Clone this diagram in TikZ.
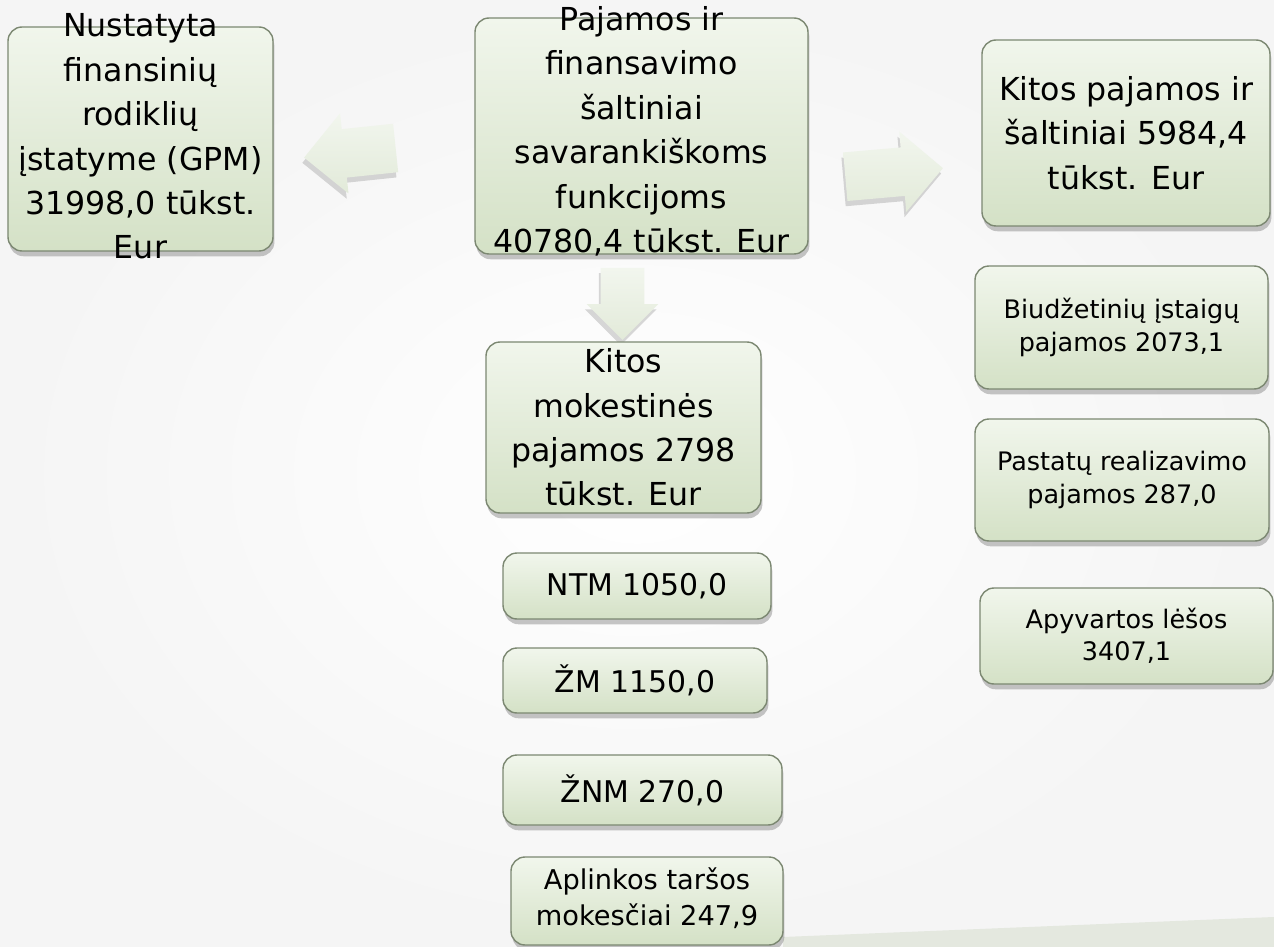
\documentclass[tikz,border=0pt]{standalone}
\usepackage{fontspec}
\setmainfont{DejaVu Sans}
\usetikzlibrary{shapes.arrows,shadows}
\definecolor{boxtop}{HTML}{F1F6EC}
\definecolor{boxbot}{HTML}{D4E1C6}
\definecolor{boxline}{HTML}{7C8872}
\definecolor{arrtop}{HTML}{F2F6EE}
\definecolor{arrbot}{HTML}{E2EAD9}
\definecolor{band}{HTML}{E4E8DF}
\tikzset{
    box/.style={rectangle, rounded corners=8pt, draw=boxline, line width=0.8pt,
        top color=boxtop, bottom color=boxbot, inner sep=0pt,
        drop shadow={shadow xshift=0.8pt, shadow yshift=-3pt, opacity=0.45}},
    bigtxt/.style={align=center, inner sep=0pt, font=\fontsize{18}{25.3}\selectfont},
    midtxt/.style={align=center, inner sep=0pt, font=\fontsize{17}{21}\selectfont},
    smalltxt/.style={align=center, inner sep=0pt, font=\fontsize{14.5}{18.5}\selectfont},
    blockarrow/.style={single arrow, draw=none, inner xsep=0pt,
        top color=arrtop, bottom color=arrbot,
        drop shadow={shadow xshift=-1pt, shadow yshift=-3pt, opacity=0.3}},
}

\begin{document}
\begin{tikzpicture}
\useasboundingbox (0,0) rectangle (25.48,-18.94);
% background
\shade[inner color=white, outer color=gray!8] (0,0) rectangle (25.48,-18.94);
\fill[band] (15.66,-18.74) -- (25.48,-18.34) -- (25.48,-18.94) -- (15.66,-18.94) -- cycle;

% top row
\node[box, minimum width=5.30cm, minimum height=4.48cm] (nust) at (2.81,-2.78) {};
\node[bigtxt] (nusttxt) at ([yshift=0.05cm]nust.center) {Nustatyta\\finansinių\\rodiklių\\įstatyme (GPM)\\31998,0 tūkst.\\Eur};
\node[box, minimum width=6.66cm, minimum height=4.72cm] (paj) at (12.83,-2.72) {};
\node[bigtxt] (pajtxt) at ([yshift=0.09cm]paj.center) {Pajamos ir\\finansavimo\\šaltiniai\\savarankiškoms\\funkcijoms\\40780,4 tūkst. Eur};
\node[box, minimum width=5.76cm, minimum height=3.72cm] (kitpaj) at (22.52,-2.66) {};
\node[bigtxt] (kitpajtxt) at (kitpaj) {Kitos pajamos ir\\šaltiniai 5984,4\\tūkst. Eur};

% arrows
\node[blockarrow, minimum height=1.84cm, inner ysep=0.48cm,
    single arrow head extend=0.32cm, rotate=186] (larr) at (7.24,-3.03) {};
\node[blockarrow, minimum height=1.96cm, inner ysep=0.48cm,
    single arrow head extend=0.32cm, rotate=5] (rarr) at (17.64,-3.47) {};
\node[blockarrow, minimum height=1.44cm, inner ysep=0.43cm,
    single arrow head extend=0.28cm, rotate=-90] (darr) at (12.45,-5.86) {};

% middle column
\node[box, minimum width=5.50cm, minimum height=3.42cm] (kitmok) at (12.47,-8.55) {};
\node[bigtxt] (kitmoktxt) at (kitmok) {Kitos\\mokestinės\\pajamos 2798\\tūkst. Eur};
\node[box, minimum width=5.36cm, minimum height=1.32cm] (ntm) at (12.74,-11.72) {};
\node[midtxt] (ntmtxt) at (ntm) {NTM 1050,0};
\node[box, minimum width=5.28cm, minimum height=1.30cm] (zm) at (12.70,-13.61) {};
\node[midtxt] (zmtxt) at (zm) {ŽM 1150,0};
\node[box, minimum width=5.58cm, minimum height=1.40cm] (znm) at (12.85,-15.80) {};
\node[midtxt] (znmtxt) at (znm) {ŽNM 270,0};
\node[box, minimum width=5.44cm, minimum height=1.76cm] (aplink) at (12.94,-18.02) {};
\node[smalltxt, font=\fontsize{15.5}{20.5}\selectfont] (aplinktxt) at ([yshift=0.05cm]aplink.center) {Aplinkos taršos\\mokesčiai 247,9};

% right column
\node[box, minimum width=5.86cm, minimum height=2.46cm] (biud) at (22.43,-6.55) {};
\node[smalltxt] (biudtxt) at (biud) {Biudžetinių įstaigų\\pajamos 2073,1};
\node[box, minimum width=5.88cm, minimum height=2.44cm] (pastat) at (22.44,-9.60) {};
\node[smalltxt] (pastattxt) at (pastat) {Pastatų realizavimo\\pajamos 287,0};
\node[box, minimum width=5.86cm, minimum height=1.92cm] (apyv) at (22.53,-12.72) {};
\node[smalltxt] (apyvtxt) at (apyv) {Apyvartos lėšos\\3407,1};
\end{tikzpicture}
\end{document}
